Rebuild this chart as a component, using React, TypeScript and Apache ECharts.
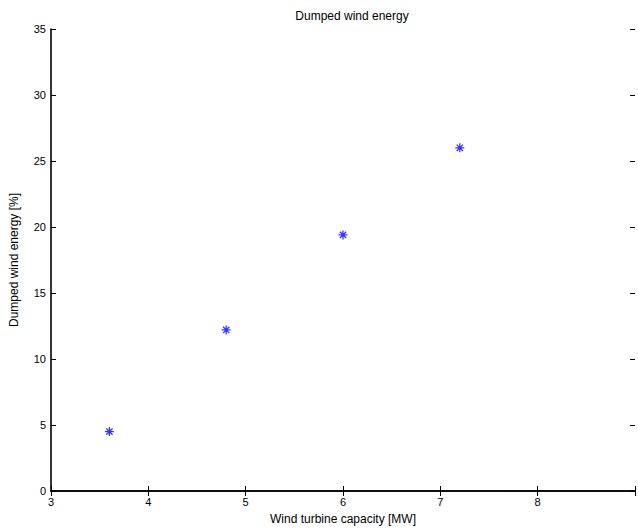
import React, { useEffect, useRef } from "react";
import * as echarts from "echarts";

const capacityMW = [3.6, 4.8, 6.0, 7.2];
const dumpedPct = [4.5, 12.2, 19.4, 26.0];
const titleText = "Dumped wind energy";
const xName = "Wind turbine capacity [MW]";
const yName = "Dumped wind energy [%]";

const FONT = "Arial, 'Liberation Sans', Helvetica, sans-serif";
const STAR = "path://M0,-10L0,10M-10,0L10,0M-7,-7L7,7M-7,7L7,-7";

export default function App() {
  const ref = useRef<HTMLDivElement>(null);
  useEffect(() => {
    document.body.style.margin = "0";
    const chart = echarts.init(ref.current!, null, { renderer: "svg" });
    const axisLine = { show: true, lineStyle: { color: "#000", width: 1.6 } };
    const tick = { show: true, inside: true, length: 5, lineStyle: { color: "#000", width: 1 } };
    chart.setOption({
      animation: false,
      backgroundColor: "#fff",
      title: {
        text: titleText,
        left: 347,
        textAlign: "center",
        top: 5,
        textStyle: { fontFamily: FONT, fontSize: 12, fontWeight: "normal", color: "#000" },
      },
      grid: { left: 48, right: -3, top: 29, bottom: 36, containLabel: false },
      xAxis: [
        {
          type: "value",
          min: 3,
          max: 9,
          interval: 1,
          position: "bottom",
          name: xName,
          nameLocation: "middle",
          nameGap: 22,
          nameTextStyle: { fontFamily: FONT, fontSize: 12, color: "#000" },
          axisLine,
          axisTick: tick,
          axisLabel: {
            fontFamily: FONT,
            fontSize: 11,
            color: "#000",
            margin: 5,
            formatter: (v: number) => (v === 9 ? "" : String(v)),
          },
          splitLine: { show: false },
        },
        {
          type: "value",
          min: 3,
          max: 9,
          interval: 1,
          position: "top",
          axisLine,
          axisTick: tick,
          axisLabel: { show: false },
          splitLine: { show: false },
        },
      ],
      yAxis: [
        {
          type: "value",
          min: 0,
          max: 35,
          interval: 5,
          position: "left",
          name: yName,
          nameLocation: "middle",
          nameGap: 31,
          nameTextStyle: { fontFamily: FONT, fontSize: 12, color: "#000" },
          axisLine,
          axisTick: tick,
          axisLabel: { fontFamily: FONT, fontSize: 11, color: "#000", margin: 5 },
          splitLine: { show: false },
        },
        {
          type: "value",
          min: 0,
          max: 35,
          interval: 5,
          position: "right",
          axisLine: { show: false },
          axisTick: tick,
          axisLabel: { show: false },
          splitLine: { show: false },
        },
      ],
      series: [
        {
          type: "scatter",
          data: capacityMW.map((x, i) => [x, dumpedPct[i]]),
          symbol: STAR,
          symbolSize: 9,
          itemStyle: { color: "none", borderColor: "#0000ff", borderWidth: 1.3 },
        },
      ],
    });
    return () => chart.dispose();
  }, []);
  return (
    <div
      ref={ref}
      style={{ position: "absolute", left: 0, top: 0, width: 638, height: 530 }}
    />
  );
}
